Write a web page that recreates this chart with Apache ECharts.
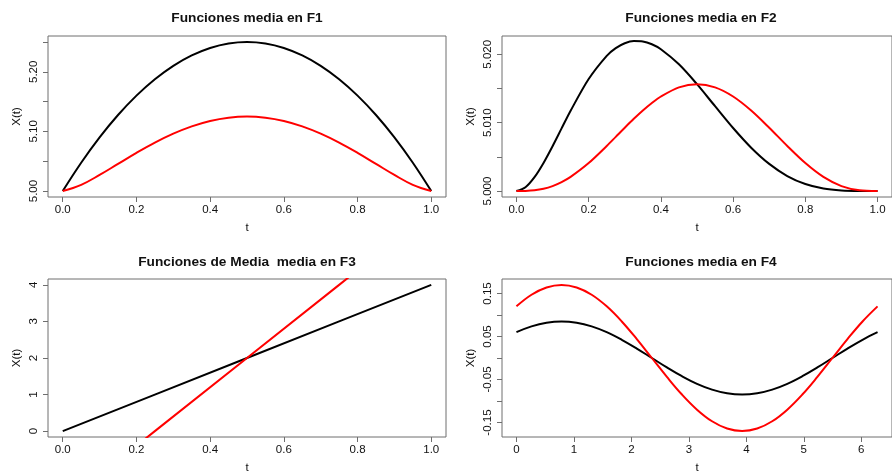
<!DOCTYPE html>
<html>
<head>
<meta charset="utf-8">
<script src="https://cdn.jsdelivr.net/npm/echarts@6/dist/echarts.min.js"></script>
<style>html,body{margin:0;padding:0;background:#fff}#c{width:892px;height:475px}</style>
</head>
<body>
<div id="c"></div>
<script>
// ---- data ----
const titles = ["Funciones media en F1", "Funciones media en F2", "Funciones de Media  media en F3", "Funciones media en F4"];

const t01 = [0,0.05,0.10,0.15,0.20,0.25,0.30,0.35,0.40,0.45,0.50,0.55,0.60,0.65,0.70,0.75,0.80,0.85,0.90,0.95,1.00];

const f1Black = [5,5.0475,5.09,5.1275,5.16,5.1875,5.21,5.2275,5.24,5.2475,5.25,5.2475,5.24,5.2275,5.21,5.1875,5.16,5.1275,5.09,5.0475,5];
const f1Red   = [5,5.0104,5.027,5.0455,5.064,5.0812,5.0962,5.1085,5.1176,5.1231,5.125,5.1231,5.1176,5.1085,5.0962,5.0812,5.064,5.0455,5.027,5.0104,5];

const f2T     = [0,0.025,0.05,0.075,0.10,0.125,0.15,0.20,0.25,0.275,0.30,0.325,0.35,0.375,0.40,0.45,0.50,0.55,0.60,0.65,0.70,0.75,0.80,0.85,0.90,0.95,1.00];
const f2Black = [5,5.000565,5.002036,5.004118,5.006561,5.009159,5.011745,5.016384,5.019775,5.020894,5.021609,5.021927,5.021867,5.021458,5.020736,5.018530,5.015625,5.012404,5.009216,5.006340,5.003969,5.002197,5.001024,5.000366,5.000081,5.000006,5];
const f2Red   = [5,5.000015,5.000107,5.000334,5.000729,5.001308,5.002073,5.004096,5.006592,5.007925,5.009261,5.010557,5.011775,5.012875,5.013824,5.015161,5.015625,5.015161,5.013824,5.011775,5.009261,5.006592,5.004096,5.002073,5.000729,5.000107,5];

const f3T     = [0,0.25,0.5,0.75,1];
const f3Black = [0,1,2,3,4];
const f3Red   = [-2,0,2,4,6];

const f4T     = [0,0.2618,0.5236,0.7854,1.0472,1.3090,1.5708,1.8326,2.0944,2.3562,2.6180,2.8798,3.1416,3.4034,3.6652,3.9270,4.1888,4.4506,4.7124,4.9742,5.2360,5.4978,5.7596,6.0214,6.2832];
const f4Black = [0.0600,0.0735,0.0820,0.0849,0.0820,0.0735,0.0600,0.0424,0.0220,0,-0.0220,-0.0424,-0.0600,-0.0735,-0.0820,-0.0849,-0.0820,-0.0735,-0.0600,-0.0424,-0.0220,0,0.0220,0.0424,0.0600];
const f4Red   = [0.1200,0.1470,0.1639,0.1697,0.1639,0.1470,0.1200,0.0849,0.0439,0,-0.0439,-0.0849,-0.1200,-0.1470,-0.1639,-0.1697,-0.1639,-0.1470,-0.1200,-0.0849,-0.0439,0,0.0439,0.0849,0.1200];

// tick values / labels
const xTicks01   = [0,0.2,0.4,0.6,0.8,1.0];
const xTicks4    = [0,1,2,3,4,5,6];
const y1Ticks    = [5.00,5.05,5.10,5.15,5.20,5.25];
const y1Labels   = [5.00,5.10,5.20];
const y2Ticks    = [5.000,5.005,5.010,5.015,5.020];
const y2Labels   = [5.000,5.010,5.020];
const y3Ticks    = [0,1,2,3,4];
const y4Ticks    = [-0.15,-0.10,-0.05,0,0.05,0.10,0.15];
const y4Labels   = [-0.15,-0.05,0.05,0.15];

// ---- build chart ----
const FONT = 'Liberation Sans, Arial, sans-serif';
const TXT = '#111';
const BOX = '#6e6e6e';
const LBL = 11.5;

const grids = [
  {left: 48,  top: 36,  width: 398, height: 161},
  {left: 502, top: 36,  width: 398, height: 161},
  {left: 48,  top: 279, width: 398, height: 161},
  {left: 502, top: 279, width: 398, height: 161}
].map(g => Object.assign({show: true, borderColor: BOX, borderWidth: 1, backgroundColor: 'transparent', containLabel: false}, g));

function xAx(i, min, max, ticks, fmt) {
  return {
    type: 'value', gridIndex: i, min: min, max: max, position: 'bottom',
    name: 't', nameLocation: 'middle', nameGap: 25,
    nameTextStyle: {fontFamily: FONT, fontSize: LBL, color: TXT},
    axisLine: {show: false, onZero: false},
    axisTick: {show: true, inside: false, length: 5, lineStyle: {color: BOX}, customValues: ticks},
    axisLabel: {show: true, margin: 7, fontFamily: FONT, fontSize: LBL, color: TXT, customValues: ticks, formatter: fmt, showMinLabel: true, showMaxLabel: true, hideOverlap: false},
    splitLine: {show: false}
  };
}
function yAx(i, min, max, ticks, labels, fmt) {
  return {
    type: 'value', gridIndex: i, min: min, max: max, position: 'left',
    name: 'X(t)', nameLocation: 'middle', nameGap: 25,
    nameTextStyle: {fontFamily: FONT, fontSize: LBL, color: TXT},
    axisLine: {show: false, onZero: false},
    axisTick: {show: true, inside: false, length: 5, lineStyle: {color: BOX}, customValues: ticks},
    axisLabel: {show: true, rotate: 90, margin: 8, fontFamily: FONT, fontSize: LBL, color: TXT, customValues: labels, formatter: fmt, hideOverlap: false},
    splitLine: {show: false}
  };
}
const f1 = v => (+v).toFixed(1);
const f0 = v => String(Math.round(+v));

function zip(a, b) { return a.map((x, k) => [x, b[k]]); }
function line(i, xs, ys, color, smooth) {
  return {
    type: 'line', xAxisIndex: i, yAxisIndex: i, data: zip(xs, ys),
    showSymbol: false, symbol: 'none', smooth: smooth ? smooth : false,
    lineStyle: {color: color, width: 2}, clip: true, silent: true, animation: false
  };
}

const titleCenters = [[247, 11], [701, 11], [247, 255], [701, 255]];

const option = {
  backgroundColor: '#fff',
  animation: false,
  title: titles.map((t, i) => ({
    text: t, left: titleCenters[i][0], top: titleCenters[i][1], textAlign: 'center', padding: 0,
    textStyle: {fontFamily: FONT, fontSize: 13.7, fontWeight: 'bold', color: TXT}
  })),
  grid: grids,
  xAxis: [
    xAx(0, -0.04, 1.04, xTicks01, f1),
    xAx(1, -0.04, 1.04, xTicks01, f1),
    xAx(2, -0.04, 1.04, xTicks01, f1),
    xAx(3, -0.2513, 6.5345, xTicks4, f0)
  ],
  yAxis: [
    yAx(0, 4.99, 5.26, y1Ticks, y1Labels, v => (+v).toFixed(2)),
    yAx(1, 4.99913, 5.02267, y2Ticks, y2Labels, v => (+v).toFixed(3)),
    yAx(2, -0.16, 4.16, y3Ticks, y3Ticks, f0),
    yAx(3, -0.1836, 0.1836, y4Ticks, y4Labels, v => (+v).toFixed(2))
  ],
  series: [
    line(0, t01, f1Black, '#000', 0.4),
    line(0, t01, f1Red, '#ff0000', 0.4),
    line(1, f2T, f2Black, '#000', 0.3),
    line(1, f2T, f2Red, '#ff0000', 0.3),
    line(2, f3T, f3Black, '#000', false),
    line(2, f3T, f3Red, '#ff0000', false),
    line(3, f4T, f4Black, '#000', 0.4),
    line(3, f4T, f4Red, '#ff0000', 0.4)
  ]
};

const chart = echarts.init(document.getElementById('c'), null, {renderer: 'canvas'});
chart.setOption(option);
</script>
</body>
</html>
